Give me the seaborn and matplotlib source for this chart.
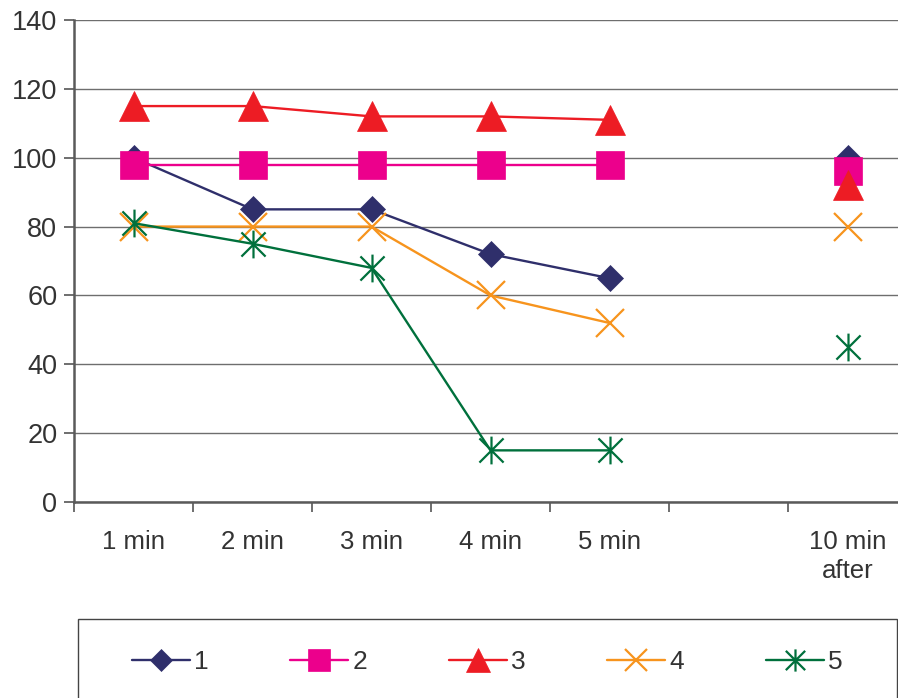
import numpy as np
import pandas as pd
import matplotlib
matplotlib.use("Agg")
import matplotlib.pyplot as plt
from matplotlib.path import Path
from matplotlib.patches import Rectangle
import seaborn as sns

categories = ["1 min", "2 min", "3 min", "4 min", "5 min", "", "10 min\nafter"]
series_names = ["1", "2", "3", "4", "5"]
s1 = [100, 85, 85, 72, 65, np.nan, 100]
s2 = [98, 98, 98, 98, 98, np.nan, 96]
s3 = [115, 115, 112, 112, 111, np.nan, 92]
s4 = [80, 80, 80, 60, 52, np.nan, 80]
s5 = [81, 75, 68, 15, 15, np.nan, 45]
yticks = [0, 20, 40, 60, 80, 100, 120, 140]

colors = ["#2f2f6b", "#ec008c", "#ed1c24", "#f7941d", "#00703c"]
star = Path([(-1, -1), (1, 1), (-1, 1), (1, -1), (0, -1.15), (0, 1.15)],
            [Path.MOVETO, Path.LINETO, Path.MOVETO, Path.LINETO, Path.MOVETO, Path.LINETO])
markers = ["D", "s", "^", "x", star]
msizes = [13.5, 20, 21, 20, 20]

sns.set_theme(style="white")
plt.rcParams['font.family'] = ['Liberation Sans', 'DejaVu Sans']

fig = plt.figure(figsize=(8.98, 6.98), dpi=100)
ax = fig.add_axes([74/898, (698-502)/698, (907-74)/898, (502-20)/698])

pos = np.arange(len(categories))
data = [s1, s2, s3, s4, s5]
handles = []
for name, vals, c, m, ms in zip(series_names, data, colors, markers, msizes):
    vals = np.array(vals, dtype=float)
    filled = m in ("D", "s", "^")
    kw = dict(marker=m, markersize=ms, color=c, linewidth=1.7,
              markeredgewidth=1.6 if not filled else 0.5,
              markeredgecolor=c, markerfacecolor=c if filled else "none")
    df1 = pd.DataFrame({"x": pos[:5], "y": vals[:5]})
    sns.lineplot(data=df1, x="x", y="y", ax=ax, **kw)
    df2 = pd.DataFrame({"x": pos[6:], "y": vals[6:]})
    sns.lineplot(data=df2, x="x", y="y", ax=ax, **kw)
    handles.append(plt.Line2D([], [], marker=m, color=c, linewidth=1.7,
                              markersize=ms * 0.8,
                              markeredgewidth=1.6 if not filled else 0.5,
                              markeredgecolor=c,
                              markerfacecolor=c if filled else "none"))

ax.set_xlim(-0.5, len(categories) - 0.5)
ax.set_ylim(0, 140)
ax.set_yticks(yticks)
ax.set_yticklabels([str(v) for v in yticks], fontsize=19.5, color="#333333")
ax.set_xticks(np.arange(-0.5, len(categories), 1.0))
ax.set_xticklabels([])
ax.set_xticks(pos, minor=True)
ax.set_xticklabels(categories, minor=True, fontsize=18.5, color="#333333", linespacing=1.3)
ax.tick_params(axis="x", which="major", direction="out", length=7, width=1.2, color="#555555", bottom=True)
ax.tick_params(axis="x", which="minor", length=0, pad=20)
ax.tick_params(axis="y", direction="out", length=7, width=1.2, color="#555555", left=True, pad=5)
ax.set_xlabel("")
ax.set_ylabel("")
ax.grid(axis="y", color="#6e6e6e", linewidth=1.0)
ax.set_axisbelow(True)
for side in ["top", "right"]:
    ax.spines[side].set_visible(False)
for side in ["left", "bottom"]:
    ax.spines[side].set_color("#5a5a5a")
    ax.spines[side].set_linewidth(1.8)
if ax.get_legend():
    ax.get_legend().remove()

fig.patches.append(Rectangle((78/898, -0.05), (897-78)/898, 0.05 + (698-619)/698,
                             transform=fig.transFigure, fill=False,
                             edgecolor="#444444", linewidth=1.0))
fig.legend(handles, series_names, loc="center", bbox_to_anchor=(487/898, 1 - 662/698),
           ncol=5, frameon=False, fontsize=19, handlelength=2.2, handletextpad=0.15,
           columnspacing=3.1, labelcolor="#333333")

fig.savefig("out.png", dpi=100)
